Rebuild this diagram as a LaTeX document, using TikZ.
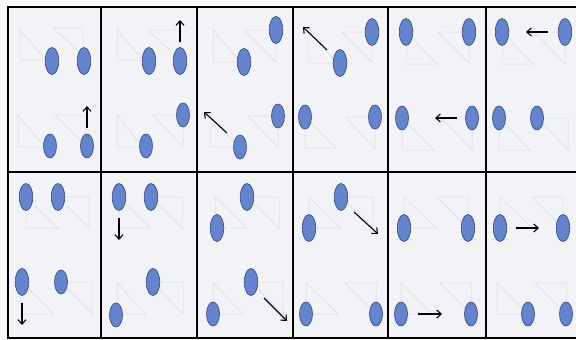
\documentclass[tikz,border=0pt]{standalone}
\usetikzlibrary{shapes.geometric,arrows.meta}
\definecolor{cellbg}{RGB}{241,243,247}
\definecolor{pagebg}{RGB}{250,250,250}
\definecolor{ellfill}{RGB}{100,132,206}
\definecolor{elldraw}{RGB}{50,68,135}
\definecolor{tri}{RGB}{216,218,223}
\begin{document}
\begin{tikzpicture}[x=1pt,y=-1pt,
  ell/.style={ellipse,fill=ellfill,draw=elldraw,line width=0.6pt,minimum width=13.5pt,minimum height=27pt,inner sep=0pt},
  sml/.style={minimum width=13pt,minimum height=24pt},
  arr/.style={-{Straight Barb[length=4.5pt,width=8pt]},line width=1.1pt,black},
  frame/.style={line width=1.4pt,black},
  trig/.style={draw=tri,line width=0.5pt}]
\useasboundingbox (0,0) rectangle (576,340);
\fill[pagebg] (0,0) rectangle (576,340);
\fill[cellbg] (8,7) rectangle (582,338);
% faint triangles
\foreach \a/\b/\c/\d/\e/\f in {
 20/30/20/60/46/60, 53/28/83/28/83/55,
 18/115/18/147/45/147, 55/115/85/115/85/145,
 117/30/117/60/143/60, 148/30/180/30/180/60,
 117/115/117/147/143/147, 153/115/183/115/183/147,
 213/30/213/62/240/62, 244/30/276/30/276/62,
 210/115/210/147/238/147, 248/116/278/116/278/147,
 308/30/308/63/337/63, 342/32/372/32/372/62,
 305/117/305/148/336/148, 345/117/375/117/375/148,
 406/32/406/64/437/64, 438/32/469/32/469/63,
 402/118/402/150/434/150, 441/118/472/118/472/150,
 502/32/502/64/533/64, 535/32/565/32/565/64,
 499/118/499/150/530/150, 537/118/568/118/568/150,
 26/197/26/228/58/228, 58/197/89/197/89/228,
 22/282/22/314/54/314, 61/282/92/282/92/314,
 119/197/119/228/150/228, 151/197/182/197/182/228,
 117/283/117/314/145/314, 153/282/183/282/183/314,
 215/197/215/228/247/228, 247/197/279/197/279/228,
 213/283/213/314/243/314, 251/282/283/282/283/314,
 309/197/309/228/341/228, 341/197/373/197/373/228,
 306/283/306/314/338/314, 345/283/376/283/376/314,
 404/197/404/228/436/228, 437/197/468/197/468/228,
 401/283/401/314/432/314, 440/283/471/283/471/314,
 500/197/500/228/532/228, 532/197/563/197/563/228,
 497/283/497/314/528/314, 535/283/566/283/566/314}
 {\draw[trig] (\a,\b) -- (\c,\d) -- (\e,\f) -- cycle;}
% frame
\draw[frame] (8,7) rectangle (582,338);
\foreach \x in {101,197,293,388,486} \draw[frame] (\x,7) -- (\x,338);
\draw[frame] (8,172) -- (582,172);
% ellipses row 1
\node[ell] (e1a) at (52,61) {};  \node[ell] (e1b) at (84,61) {};
\node[ell,sml] (e1c) at (50,146) {}; \node[ell,sml] (e1d) at (87,146) {};
\node[ell] (e2a) at (149,61) {}; \node[ell] (e2b) at (180,61) {};
\node[ell,sml] (e2c) at (146,146) {}; \node[ell,sml] (e2d) at (183,115) {};
\node[ell] (e3a) at (244,62) {}; \node[ell] (e3b) at (276,30) {};
\node[ell,sml] (e3c) at (240,147) {}; \node[ell,sml] (e3d) at (278,116) {};
\node[ell] (e4a) at (340,63) {}; \node[ell] (e4b) at (372,32) {};
\node[ell,sml] (e4c) at (305,117) {}; \node[ell,sml] (e4d) at (375,117) {};
\node[ell] (e5a) at (406,32) {}; \node[ell] (e5b) at (469,32) {};
\node[ell,sml] (e5c) at (402,118) {}; \node[ell,sml] (e5d) at (472,118) {};
\node[ell] (e6a) at (502,32) {}; \node[ell] (e6b) at (565,32) {};
\node[ell,sml] (e6c) at (499,118) {}; \node[ell,sml] (e6d) at (537,118) {};
% ellipses row 2
\node[ell] (e7a) at (26,197) {}; \node[ell] (e7b) at (58,197) {};
\node[ell] (e7c) at (22,282) {}; \node[ell,sml] (e7d) at (61,282) {};
\node[ell] (e8a) at (119,197) {}; \node[ell] (e8b) at (151,197) {};
\node[ell] (e8c) at (153,282) {}; \node[ell,sml] (e8d) at (116,315) {};
\node[ell] (e9a) at (247,197) {}; \node[ell] (e9b) at (217,228) {};
\node[ell] (e9c) at (251,282) {}; \node[ell,sml] (e9d) at (213,314) {};
\node[ell] (e10a) at (341,197) {}; \node[ell] (e10b) at (309,228) {};
\node[ell,sml] (e10c) at (306,314) {}; \node[ell,sml] (e10d) at (376,314) {};
\node[ell] (e11a) at (404,228) {}; \node[ell] (e11b) at (468,228) {};
\node[ell,sml] (e11c) at (401,314) {}; \node[ell,sml] (e11d) at (471,314) {};
\node[ell] (e12a) at (500,228) {}; \node[ell] (e12b) at (563,228) {};
\node[ell,sml] (e12c) at (528,314) {}; \node[ell,sml] (e12d) at (566,314) {};
% arrows
\coordinate (a1s) at (87,128);  \coordinate (a1e) at (87,106);
\coordinate (a2s) at (180,42);  \coordinate (a2e) at (180,20);
\coordinate (a3s) at (227,133); \coordinate (a3e) at (204,112);
\coordinate (a4s) at (327,50);  \coordinate (a4e) at (303,27);
\coordinate (a5s) at (457,118); \coordinate (a5e) at (435,118);
\coordinate (a6s) at (548,32);  \coordinate (a6e) at (526,32);
\coordinate (a7s) at (22,303);  \coordinate (a7e) at (22,325);
\coordinate (a8s) at (119,218); \coordinate (a8e) at (119,240);
\coordinate (a9s) at (264,298); \coordinate (a9e) at (287,321);
\coordinate (a10s) at (354,212); \coordinate (a10e) at (378,234);
\coordinate (a11s) at (418,314); \coordinate (a11e) at (442,314);
\coordinate (a12s) at (516,228); \coordinate (a12e) at (539,228);
\foreach \i in {1,...,12} \draw[arr] (a\i s) -- (a\i e);
\end{tikzpicture}
\end{document}
